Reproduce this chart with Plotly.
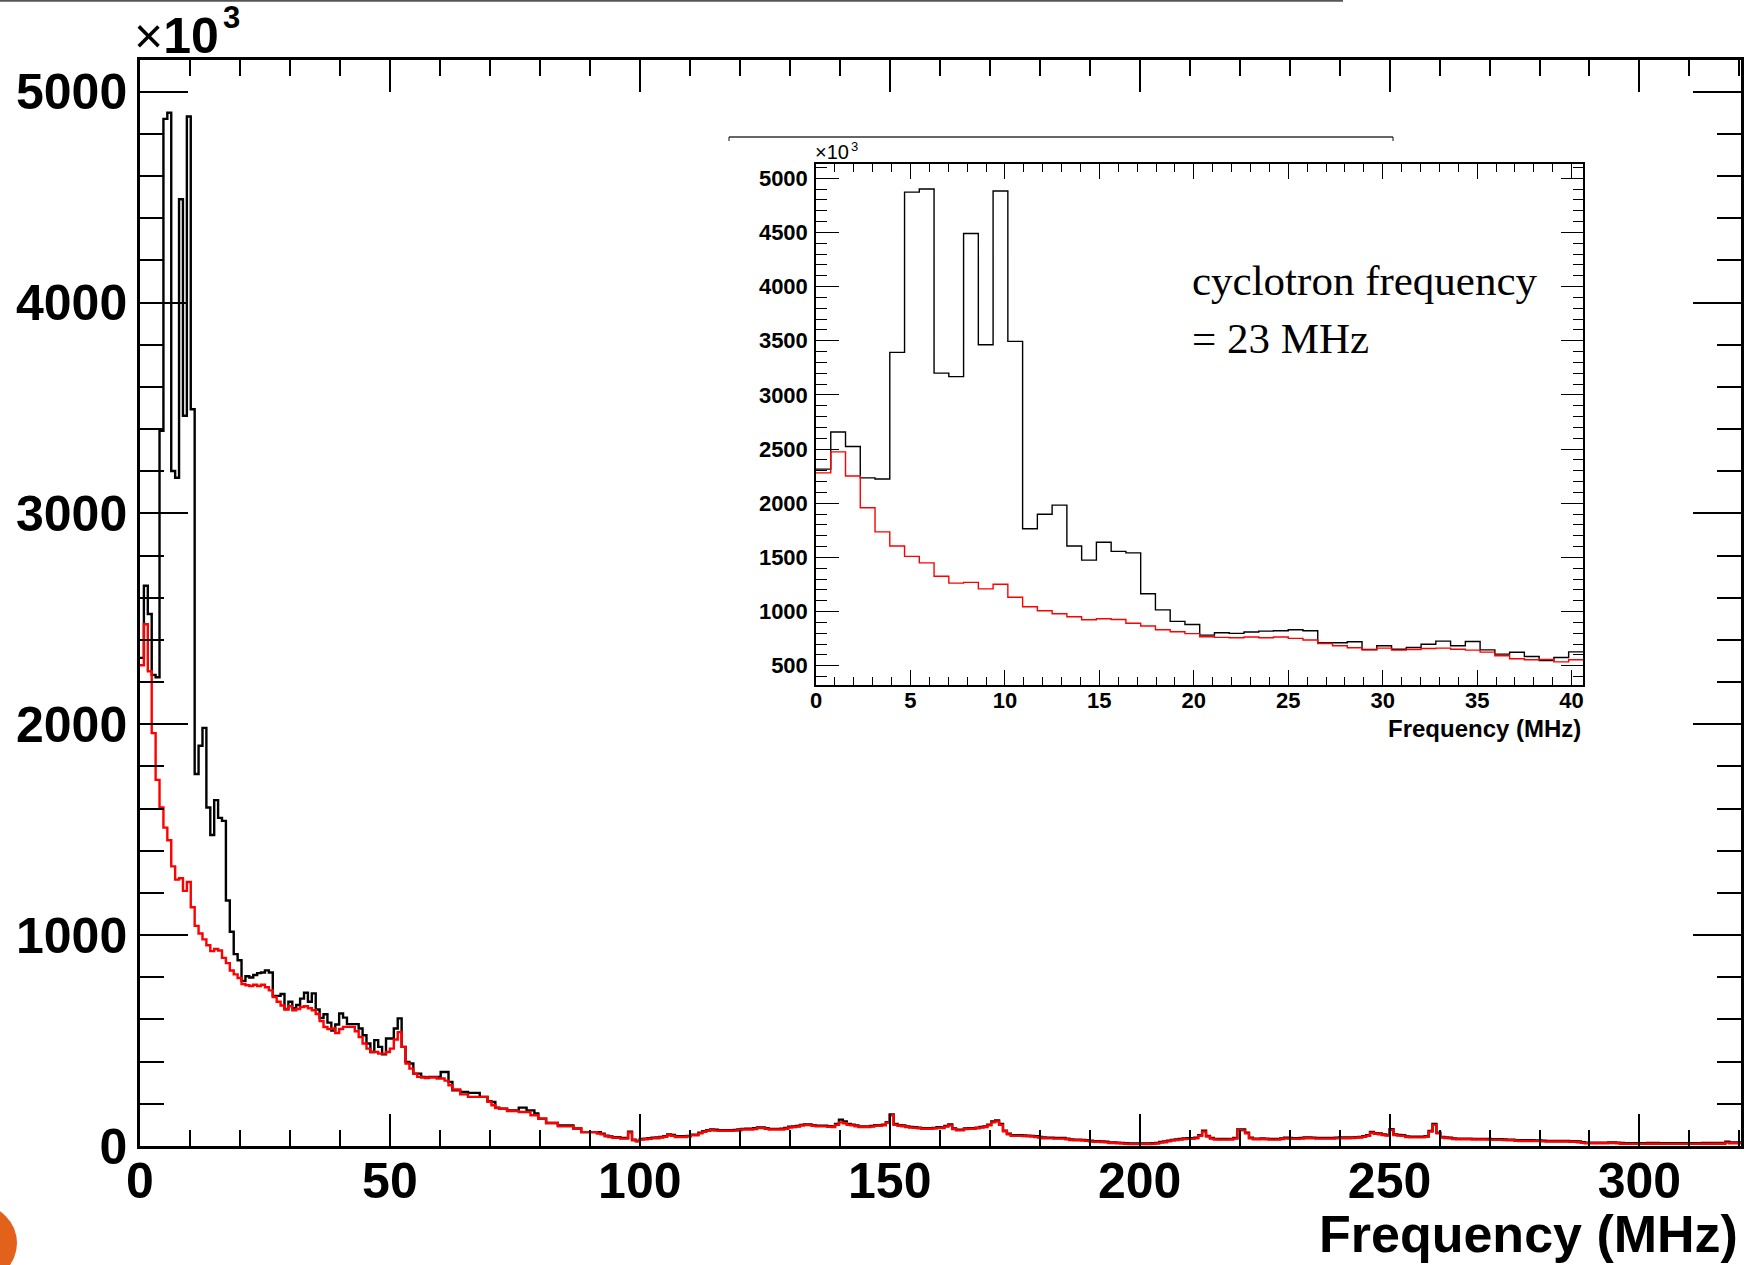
import plotly.graph_objects as go

# ---------------- data ----------------
BIN_WIDTH = 0.78125  # MHz per FFT bin

# black histogram (bins of 0.78125 MHz starting at 0 MHz), values in units of 10^3
black_vals = [
    2315, 2657, 2523, 2234, 2223, 3392, 4871, 4900, 3201, 3169,
    4490, 3463, 4882, 3494, 1764, 1898, 1983, 1605, 1475, 1640,
    1556, 1542, 1164, 1016, 910, 881, 783, 805, 799, 811,
    820, 823, 833, 823, 712, 712, 721, 650, 684, 653,
    669, 699, 727, 684, 724, 647, 607, 625, 585, 548,
    576, 628, 609, 578, 578, 578, 557, 525, 486, 446,
    502, 470, 435, 510, 510, 557, 605, 470, 399, 391,
    343, 343, 328, 325, 328, 328, 328, 351, 351, 304,
    264, 264, 256, 256, 252, 252, 252, 233, 233, 212,
    209, 182, 177, 177, 169, 169, 169, 182, 182, 169,
    169, 154, 130, 130, 109, 109, 109, 98, 98, 98,
    98, 83, 83, 66, 66, 66, 66, 66, 58, 49,
    45, 42, 42, 38, 38, 68, 30, 24, 33, 35,
    37, 39, 40, 43, 47, 55, 52, 46, 46, 46,
    48, 54, 54, 63, 70, 75, 79, 77, 75, 75,
    75, 75, 76, 78, 81, 82, 82, 84, 88, 88,
    85, 81, 81, 81, 82, 86, 91, 93, 95, 100,
    102, 102, 99, 96, 96, 96, 94, 93, 104, 125,
    116, 104, 101, 97, 93, 93, 93, 95, 99, 99,
    101, 113, 150, 104, 99, 97, 93, 90, 89, 87,
    85, 85, 85, 86, 89, 88, 95, 102, 83, 77,
    77, 83, 85, 85, 87, 90, 93, 101, 116, 121,
    104, 73, 58, 51, 51, 51, 50, 49, 48, 46,
    43, 40, 39, 39, 38, 38, 38, 35, 31, 30,
    30, 29, 28, 25, 23, 23, 22, 20, 17, 17,
    16, 15, 13, 12, 12, 12, 12, 12, 12, 13,
    15, 19, 21, 25, 29, 31, 33, 36, 37, 37,
    39, 51, 72, 48, 38, 34, 33, 33, 33, 34,
    38, 79, 78, 63, 39, 35, 35, 36, 35, 33,
    33, 33, 36, 39, 38, 37, 37, 38, 40, 40,
    39, 38, 38, 38, 38, 38, 39, 40, 40, 40,
    41, 42, 43, 47, 51, 67, 61, 59, 55, 52,
    80, 55, 52, 51, 45, 44, 44, 44, 44, 47,
    71, 104, 63, 43, 41, 39, 36, 35, 35, 35,
    35, 34, 34, 34, 34, 33, 32, 32, 32, 31,
    30, 30, 28, 27, 27, 27, 27, 26, 26, 25,
    24, 24, 24, 24, 24, 24, 23, 23, 21, 18,
    16, 16, 16, 16, 16, 16, 17, 17, 16, 14,
    13, 13, 13, 13, 13, 13, 14, 14, 14, 13,
    13, 13, 13, 13, 13, 13, 13, 13, 13, 13,
    14, 14, 14, 14, 14, 14, 20, 17, 17, 17,
]

# red histogram
red_vals = [
    2280, 2474, 2251, 1958, 1736, 1605, 1510, 1450, 1326, 1263,
    1270, 1210, 1252, 1132, 1044, 1008, 980, 952, 924, 934,
    927, 892, 867, 832, 814, 797, 768, 762, 759, 765,
    759, 765, 753, 738, 706, 684, 666, 647, 663, 644,
    650, 659, 663, 653, 644, 626, 592, 564, 555, 558,
    536, 555, 565, 565, 565, 544, 517, 486, 462, 446,
    446, 438, 438, 446, 462, 505, 540, 470, 391, 367,
    343, 328, 325, 322, 325, 325, 320, 320, 310, 288,
    268, 268, 245, 245, 233, 233, 233, 233, 233, 210,
    193, 180, 177, 177, 166, 166, 166, 161, 161, 161,
    146, 146, 130, 130, 109, 109, 109, 93, 93, 93,
    93, 83, 83, 66, 66, 66, 66, 59, 55, 46,
    42, 39, 39, 35, 35, 64, 27, 22, 30, 32,
    34, 36, 37, 40, 44, 51, 48, 43, 43, 43,
    45, 51, 51, 60, 67, 72, 75, 73, 72, 72,
    72, 72, 73, 75, 78, 78, 78, 80, 85, 85,
    82, 78, 78, 78, 78, 82, 88, 90, 92, 97,
    99, 99, 96, 93, 93, 93, 91, 90, 100, 112,
    108, 100, 98, 94, 90, 90, 90, 92, 96, 96,
    98, 110, 146, 100, 96, 94, 90, 87, 86, 84,
    82, 82, 82, 83, 85, 85, 92, 98, 80, 74,
    74, 80, 82, 82, 84, 87, 90, 98, 112, 117,
    100, 70, 55, 48, 48, 48, 47, 46, 45, 43,
    40, 37, 36, 36, 35, 35, 35, 32, 28, 27,
    27, 26, 25, 22, 20, 20, 19, 17, 14, 14,
    13, 12, 10, 9, 9, 9, 9, 9, 9, 10,
    12, 16, 18, 22, 26, 28, 30, 33, 34, 34,
    36, 48, 68, 45, 35, 31, 30, 30, 30, 31,
    35, 75, 74, 60, 36, 32, 32, 33, 32, 30,
    30, 30, 33, 36, 35, 34, 34, 35, 37, 37,
    36, 35, 35, 35, 35, 35, 36, 37, 37, 37,
    38, 39, 40, 44, 48, 63, 58, 56, 52, 49,
    76, 52, 49, 48, 42, 41, 41, 41, 41, 44,
    68, 100, 60, 40, 38, 36, 33, 32, 32, 32,
    32, 31, 31, 31, 31, 30, 29, 29, 29, 28,
    27, 27, 25, 24, 24, 24, 24, 23, 23, 22,
    21, 21, 21, 21, 21, 21, 20, 20, 18, 15,
    13, 13, 13, 13, 13, 13, 14, 14, 13, 11,
    10, 10, 10, 10, 10, 10, 11, 11, 11, 10,
    10, 10, 10, 10, 10, 10, 10, 10, 10, 10,
    11, 11, 11, 11, 11, 11, 16, 13, 13, 13,
]

main_xticks = [0, 50, 100, 150, 200, 250, 300]
main_yticks = [0, 1000, 2000, 3000, 4000, 5000]
inset_xticks = [0, 5, 10, 15, 20, 25, 30, 35, 40]
inset_yticks = [500, 1000, 1500, 2000, 2500, 3000, 3500, 4000, 4500, 5000]
INSET_BINS = 52
x_title = "Frequency (MHz)"
inset_text_1 = "cyclotron frequency"
inset_text_2 = "= 23 MHz"

# ---------------- helpers ----------------
def step_xy(vals):
    xs = [i * BIN_WIDTH for i in range(len(vals) + 1)]
    ys = list(vals) + [vals[-1]]
    return xs, ys

L, R, T, B = 140, 1741, 60, 1146
W, H = R - L, B - T

def px(x):
    return (x - L) / W

def py(y):
    return (B - y) / H

SANS = "Liberation Sans"
SERIF = "Liberation Serif"

fig = go.Figure()

# main histograms
bx, by = step_xy(black_vals)
rx, ry = step_xy(red_vals)
fig.add_trace(go.Scatter(x=bx, y=by, mode="lines", line=dict(color="black", width=2.4, shape="hv"),
                         xaxis="x", yaxis="y", hoverinfo="skip"))
fig.add_trace(go.Scatter(x=rx, y=ry, mode="lines", line=dict(color="#ff0000", width=2.4, shape="hv"),
                         xaxis="x", yaxis="y", hoverinfo="skip"))

# inset histograms
ibx, iby = step_xy(black_vals[:INSET_BINS])
irx, iry = step_xy(red_vals[:INSET_BINS])
fig.add_trace(go.Scatter(x=ibx, y=iby, mode="lines", line=dict(color="black", width=1.4, shape="hv"),
                         xaxis="x2", yaxis="y2", hoverinfo="skip"))
fig.add_trace(go.Scatter(x=irx, y=iry, mode="lines", line=dict(color="#ff0000", width=1.4, shape="hv"),
                         xaxis="x2", yaxis="y2", hoverinfo="skip"))

main_tickfont = dict(family=SANS, size=50, color="black", weight="bold")
inset_tickfont = dict(family=SANS, size=22, color="black", weight="bold")

fig.update_layout(
    width=1759, height=1265,
    margin=dict(l=L, r=1759 - R, t=T, b=1265 - B),
    paper_bgcolor="white", plot_bgcolor="white",
    showlegend=False,
    xaxis=dict(
        domain=[0, 1], range=[0, 320.3125], showgrid=False, zeroline=False,
        showline=True, linecolor="black", linewidth=2.6, mirror="allticks",
        ticks="inside", ticklen=32, tickwidth=2.4, tickcolor="black",
        tickmode="array", tickvals=main_xticks, ticktext=[str(v) for v in main_xticks],
        tickfont=main_tickfont, ticklabelstandoff=-11,
        minor=dict(ticks="inside", dtick=10, tick0=0, ticklen=16, tickwidth=2.4, tickcolor="black"),
    ),
    yaxis=dict(
        domain=[0, 1], range=[0, 5150], showgrid=False, zeroline=False,
        showline=True, linecolor="black", linewidth=2.6, mirror="allticks",
        ticks="inside", ticklen=48, tickwidth=2.4, tickcolor="black",
        tickmode="array", tickvals=main_yticks, ticktext=[str(v) for v in main_yticks],
        tickfont=main_tickfont, ticklabelstandoff=0,
        minor=dict(ticks="inside", dtick=200, tick0=0, ticklen=24, tickwidth=2.4, tickcolor="black"),
    ),
    xaxis2=dict(
        domain=[px(816), px(1583.4)], anchor="y2", range=[0, 40.625],
        showgrid=False, zeroline=False,
        showline=True, linecolor="black", linewidth=1.5, mirror="allticks",
        ticks="inside", ticklen=15, tickwidth=1.2, tickcolor="black",
        tickmode="array", tickvals=inset_xticks, ticktext=[str(v) for v in inset_xticks],
        tickfont=inset_tickfont, ticklabelstandoff=-5,
        minor=dict(ticks="inside", dtick=1, tick0=0, ticklen=8, tickwidth=1.2, tickcolor="black"),
    ),
    yaxis2=dict(
        domain=[py(684.5), py(164)], anchor="x2", range=[327, 5131],
        showgrid=False, zeroline=False,
        showline=True, linecolor="black", linewidth=1.5, mirror="allticks",
        ticks="inside", ticklen=23, tickwidth=1.2, tickcolor="black",
        tickmode="array", tickvals=inset_yticks, ticktext=[str(v) for v in inset_yticks],
        tickfont=inset_tickfont, ticklabelstandoff=2,
        minor=dict(ticks="inside", dtick=100, tick0=0, ticklen=11, tickwidth=1.2, tickcolor="black"),
    ),
)

ann = []
# main x-axis title
ann.append(dict(text=x_title, xref="paper", yref="paper", x=px(1740), y=py(1234),
                xanchor="right", yanchor="middle", showarrow=False,
                font=dict(family=SANS, size=52, color="black", weight="bold")))
# main multiplier
ann.append(dict(text="×<b>10</b>", xref="paper", yref="paper", x=px(132), y=py(36),
                xanchor="left", yanchor="middle", showarrow=False,
                font=dict(family=SANS, size=50, color="black")))
ann.append(dict(text="3", xref="paper", yref="paper", x=px(221), y=py(18),
                xanchor="left", yanchor="middle", showarrow=False,
                font=dict(family=SANS, size=31, color="black", weight="bold")))
# inset multiplier
ann.append(dict(text="×10", xref="paper", yref="paper", x=px(813), y=py(152),
                xanchor="left", yanchor="middle", showarrow=False,
                font=dict(family=SANS, size=20, color="black")))
ann.append(dict(text="3", xref="paper", yref="paper", x=px(849), y=py(146),
                xanchor="left", yanchor="middle", showarrow=False,
                font=dict(family=SANS, size=13, color="black")))
# inset x title
ann.append(dict(text=x_title, xref="paper", yref="paper", x=px(1583), y=py(728),
                xanchor="right", yanchor="middle", showarrow=False,
                font=dict(family=SANS, size=24, color="black", weight="bold")))
# inset text
ann.append(dict(text=inset_text_1, xref="paper", yref="paper", x=px(1190), y=py(280),
                xanchor="left", yanchor="middle", showarrow=False,
                font=dict(family=SERIF, size=43, color="black")))
ann.append(dict(text=inset_text_2, xref="paper", yref="paper", x=px(1190), y=py(338),
                xanchor="left", yanchor="middle", showarrow=False,
                font=dict(family=SERIF, size=43, color="black")))
fig.update_layout(annotations=ann)

shapes = []
# thin line above inset with end ticks
shapes.append(dict(type="line", xref="paper", yref="paper", x0=px(729), x1=px(1393), y0=py(137), y1=py(137),
                   line=dict(color="#333333", width=1.5)))
shapes.append(dict(type="line", xref="paper", yref="paper", x0=px(729), x1=px(729), y0=py(137), y1=py(141),
                   line=dict(color="#333333", width=1.2)))
shapes.append(dict(type="line", xref="paper", yref="paper", x0=px(1393), x1=px(1393), y0=py(137), y1=py(141),
                   line=dict(color="#333333", width=1.2)))
# slide decoration: top rule and orange dot
shapes.append(dict(type="line", xref="paper", yref="paper", x0=px(0), x1=px(1343), y0=py(0.8), y1=py(0.8),
                   line=dict(color="#555555", width=2)))
shapes.append(dict(type="circle", xref="paper", yref="paper", x0=px(-59), x1=px(17), y0=py(1281), y1=py(1205),
                   fillcolor="#e2621b", line=dict(color="#e2621b", width=0)))
fig.update_layout(shapes=shapes)

fig.write_html("out.html")
